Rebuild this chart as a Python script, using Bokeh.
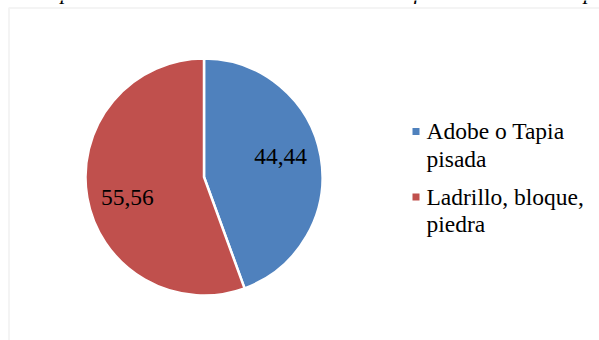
import math
from bokeh.plotting import figure
from bokeh.models import Range1d, BoxAnnotation, ColumnDataSource
from bokeh.core.properties import value
from bokeh.embed import file_html
from bokeh.resources import INLINE

# ---- data ----
categories = ["Adobe o Tapia pisada", "Ladrillo, bloque, piedra"]
legend_labels = ["Adobe o Tapia\npisada", "Ladrillo, bloque,\npiedra"]
percentages = [44.44, 55.56]
colors = ["#4F81BD", "#C0504D"]
title_text = "Material de las paredes exteriores de la vivienda de las familias asentadas por"

W, H = 599, 340
FS = "23.5px"
p = figure(width=W, height=H, output_backend="svg", toolbar_location=None,
           x_range=Range1d(0, W), y_range=Range1d(0, H),
           x_axis_location=None, y_axis_location=None, min_border=0)
p.grid.visible = False
p.outline_line_color = None
p.background_fill_color = "white"
p.border_fill_color = "white"

# clipped title (only the bottom of it shows, as in the source)
p.text(x=[-80], y=[H + 9.5], text=[title_text], text_font=value("Liberation Serif"),
       text_font_style="italic", text_font_size="22px", text_baseline="alphabetic",
       text_align="left", text_color="black", level="underlay")

# chart-area border
p.add_layout(BoxAnnotation(left=8.5, right=W + 50, bottom=-50, top=H - 7.5,
                           fill_alpha=0, line_color="#D9D9D9", line_width=2,
                           level="overlay"))

# pie
cx, cy, R = 203.5, H - 176.5, 118.5
total = sum(percentages)
starts, ends, mids = [], [], []
a = math.pi / 2
for v in percentages:
    sweep = 2 * math.pi * v / total
    starts.append(a)
    ends.append(a - sweep)
    mids.append(a - sweep / 2)
    a -= sweep
src = ColumnDataSource(dict(start=starts, end=ends, color=colors, cat=categories))
p.wedge(x=cx, y=cy, radius=R, start_angle="start", end_angle="end", direction="clock",
        fill_color="color", line_color="white", line_width=2.5, source=src)

lr = 0.67 * R
shift = math.radians(5)
lab = [f"{v:.2f}".replace(".", ",") for v in percentages]
p.text(x=[cx + lr * math.cos(m + shift) for m in mids],
       y=[cy + lr * math.sin(m + shift) for m in mids],
       text=lab, text_font=value("Liberation Serif"), text_font_size=FS,
       text_align="center", text_baseline="middle", text_color="black")

# legend
ly = [H - 131, H - 196.5]
p.rect(x=[415.5] * 2, y=ly, width=7, height=7, fill_color=colors, line_color=None)
p.text(x=[426] * 2, y=[y + 13.5 for y in ly], text=legend_labels,
       text_font=value("Liberation Serif"), text_font_size=FS,
       text_align="left", text_baseline="top", text_line_height=1.06, text_color="black")

open("out.html", "w").write(file_html(p, INLINE))
